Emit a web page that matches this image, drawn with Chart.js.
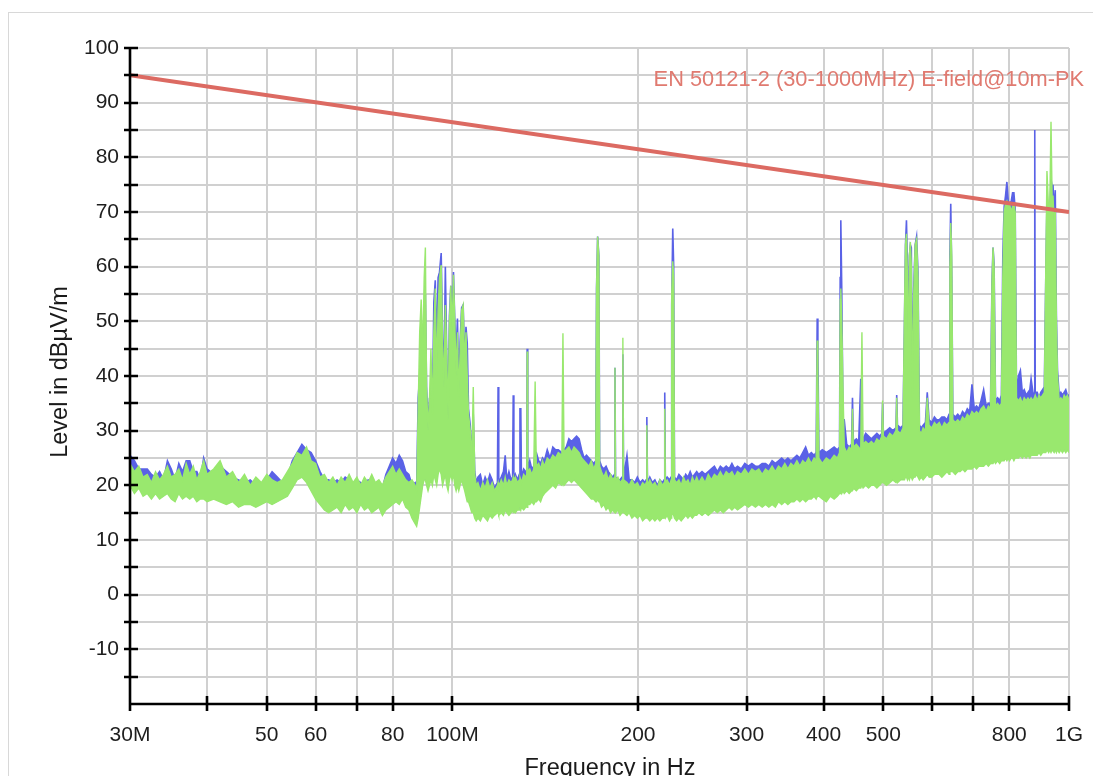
<!DOCTYPE html>
<html>
<head>
<meta charset="utf-8">
<script src="https://cdn.jsdelivr.net/npm/chart.js@4/dist/chart.umd.min.js"></script>
<style>
html,body{margin:0;padding:0;background:#fff;}
#wrap{position:relative;width:1093px;height:776px;overflow:hidden;background:#fff;}
#frame{position:absolute;left:8px;top:12px;width:1200px;height:900px;border:1.5px solid #d8d8d8;box-sizing:border-box;}
#c{position:absolute;left:0;top:0;}
</style>
</head>
<body>
<div id="wrap"><div id="frame"></div><canvas id="c" width="1093" height="776"></canvas></div>
<script>
// ---------- data ----------
const xTickValues = [30,40,50,60,70,80,100,200,300,400,500,600,700,800,1000];
const xTickLabels = ['30M','','50','60','','80','100M','200','300','400','500','','','800','1G'];

const limitFreq = [30, 1000];
const limitLevel = [95, 70];
const limitName = 'EN 50121-2 (30-1000MHz) E-field@10m-PK';

// sweep frequencies in MHz
const freqMHz = [
 30,30.5,31,31.5,32,32.5,33,33.5,34,34.5,35,35.5,36,36.5,37,37.5,38,38.5,39,39.5,40,
 41,42,43,44,45,46,47,48,49,50,51,52,53,54,55,56,57,58,59,60,61,62,63,64,65,66,67,68,69,70,71,72,73,74,75,76,77,78,79,80,81,82,83,84,85,86,87,
 87.5,88,88.5,89,89.5,90,90.4,90.8,91.3,91.8,92.3,92.8,93.3,93.8,94.3,94.8,95.3,95.9,96.4,96.9,97.4,97.9,98.4,98.9,99.4,99.9,100.4,100.9,101.4,101.9,102.4,102.9,103.5,104.1,104.7,105.2,105.7,106.2,106.9,107.5,108.1,108.7,109.3,
 110,111,112,113,114,115,116,117,118.3,118.6,118.9,120,121,121.8,122.5,123.5,124.5,125.2,125.5,125.8,126.5,127.5,128.4,128.7,129.1,129.4,130.5,131.5,132,132.2,132.5,133.5,134.5,135.5,136.2,136.8,138,139,140,141,142.5,144,145.5,147,148.5,150.5,151.1,151.7,153,154.5,156,157.5,159,160.5,162,163.5,165,166.5,168,169.5,170.8,171.3,172,172.8,173.3,
 174.5,176,177.5,179,180.5,182,183.2,183.5,183.9,185.5,187,188.5,189,189.5,191.9,193.5,195.5,197.5,199.5,201.5,203.5,205.5,206.2,206.7,207.2,209,211,213,215,217,219,220.5,221,221.5,223,225,226.3,226.8,227.7,228.5,229.2,231,233,235,237,239,241,243,245,247,249,251,254,257,260,263,266,269,272,275,278,281,284,287,290,294,298,302,306,310,314,318,322,326,330,334,338,342,346,350,354,358,362,366,370,374,378,382,386,389,390.5,391.5,393,
 398,404,410,416,421,424.5,425.5,426.5,428,430,432,436,440,444,445.5,447,452,456,459.5,461.5,463.5,468,473,478,483,488,493,497,498.5,500,506,512,518,524,525.5,527,533,538,541,543,545,547,549,551,553,555,557,560,563,566,569,572,576,580,585,589,593,599,605,610,616,622,628,634,639,641,643,645.5,648,654,660,666,672,678,684,690,696,702,708,714,720,727,734,740,746,750,753,756,760,766,772,777,781,785,789,793,797,801,806,810,814,818,822,828,834,840,846,852,858,864,868,874,878.5,880,881.5,888,894,900,906,912,917,921,927,931,935,939,942,946,950,954,958,964,970,976,982,988,994,1000
];

// green trace: upper and lower edge of the band (dBµV/m)
const greenMax = [
 24.0,22.5,23.5,21.5,22.0,20.5,22.5,21.0,22.0,23.5,21.5,22.0,23.0,21.0,24.0,22.0,23.5,21.0,22.5,24.5,22.0,
 23.0,24.5,21.5,22.5,20.5,22.0,20.0,21.5,20.5,22.0,21.0,20.5,21.0,22.5,24.0,26.0,25.5,27.0,24.5,24.0,21.5,22.0,20.5,21.5,20.0,21.5,20.5,22.0,20.5,21.5,20.0,21.5,20.5,22.0,20.5,21.0,20.0,21.5,22.5,23.5,22.0,23.0,22.0,21.0,20.5,21.0,20.0,
 19.0,34.0,48.0,54.0,44.0,58.0,63.5,38.0,30.0,36.0,45.0,33.0,48.0,56.0,40.0,52.0,58.0,60.3,46.0,38.0,53.0,44.0,32.0,50.0,56.5,48.0,58.5,50.0,40.0,48.0,36.0,44.0,52.0,53.0,42.0,48.0,40.0,33.0,30.0,24.0,38.0,22.0,20.0,
 20.5,19.0,20.5,19.5,21.0,19.5,20.5,19.0,20.0,20.5,19.5,21.0,20.0,21.5,20.0,21.0,20.5,21.0,21.5,20.5,21.5,20.5,21.0,21.5,21.0,20.5,22.0,21.5,22.0,44.5,22.5,23.0,22.0,23.0,39.0,23.5,24.0,23.0,24.5,23.5,25.0,24.5,25.5,25.0,26.0,25.5,47.8,26.0,26.5,27.0,26.0,27.0,26.5,26.0,25.0,24.5,24.0,23.5,24.5,23.0,24.0,56.0,65.5,62.0,23.5,
 22.5,21.5,22.5,21.0,22.0,21.0,21.5,41.5,21.0,21.5,20.5,21.0,47.0,21.0,20.5,20.0,21.0,20.0,20.5,19.5,20.5,20.0,20.5,31.0,20.0,21.0,20.0,20.5,19.5,21.0,20.0,20.5,34.0,20.5,21.0,20.0,21.0,55.0,61.0,58.0,21.0,20.5,21.0,20.0,21.5,20.5,21.0,20.0,21.5,20.5,21.5,20.5,21.5,20.5,22.0,21.0,22.0,21.5,22.5,21.5,22.5,22.0,22.5,21.5,22.5,22.0,23.0,22.0,23.0,22.5,23.0,22.0,23.0,22.5,23.5,22.5,23.5,23.0,24.0,23.0,24.0,23.5,24.5,23.5,24.5,24.0,25.0,24.0,25.0,24.5,46.5,40.0,25.0,
 24.0,25.0,24.5,25.5,25.0,26.0,54.0,56.0,50.0,38.0,27.0,26.0,27.0,26.5,34.0,27.0,27.5,27.0,26.5,48.0,27.5,28.0,27.5,28.0,27.5,28.5,28.0,29.0,35.5,29.0,28.5,29.5,29.0,30.0,36.0,30.0,29.5,30.5,52.0,64.0,66.0,58.0,40.0,62.0,64.5,60.0,36.0,55.0,64.0,65.0,58.0,30.0,29.5,30.5,30.0,36.0,31.0,30.5,31.5,31.0,31.5,30.5,31.5,31.0,31.5,60.0,68.0,62.0,32.0,31.5,32.0,31.5,32.5,32.0,33.0,32.5,33.5,33.0,33.5,33.0,34.0,34.5,33.5,34.5,34.0,57.0,63.5,60.0,34.5,35.0,34.5,35.0,58.0,70.0,71.5,72.0,71.0,71.5,70.0,71.0,71.5,70.0,36.0,35.5,36.0,35.0,36.0,35.5,36.0,35.5,36.0,35.5,36.0,36.0,36.5,35.5,36.5,36.0,36.5,37.0,60.0,77.5,70.0,72.0,86.5,72.0,73.0,68.0,70.0,50.0,40.0,35.5,36.0,35.5,36.5,36.0,36.5,35.5
];
const greenMin = [
 20.0,18.5,19.5,18.0,18.5,17.5,18.5,17.5,18.0,18.5,17.5,17.0,18.5,17.5,18.0,17.5,18.0,17.0,17.5,17.5,17.0,
 17.5,17.0,16.5,17.0,16.0,16.5,16.5,16.0,16.5,17.0,16.5,17.0,17.5,18.0,19.5,21.0,21.5,20.5,19.0,17.5,16.5,15.5,15.0,15.5,16.0,15.0,16.5,15.5,16.0,15.0,16.5,15.5,16.0,15.0,15.5,16.0,14.5,15.5,16.0,16.5,17.0,16.5,17.5,16.0,15.5,14.0,13.0,
 12.5,14.0,16.0,18.0,20.0,21.0,21.0,20.0,19.0,20.0,21.0,20.0,22.0,21.0,20.0,22.0,23.0,22.0,20.0,21.0,22.0,20.0,19.0,21.0,22.0,21.0,22.0,20.0,19.0,20.0,19.0,20.0,21.0,20.0,19.0,18.0,17.0,17.0,16.0,15.0,15.0,14.0,13.5,
 14.0,13.5,14.5,14.0,13.5,14.5,14.0,14.5,15.0,15.0,14.5,15.0,14.5,15.5,15.0,14.5,15.0,15.5,15.0,15.5,15.0,15.5,15.5,16.0,15.5,16.0,15.5,16.0,16.5,16.0,16.5,16.5,17.0,16.5,17.0,17.0,17.5,17.0,18.0,18.5,19.0,19.5,20.0,19.5,20.5,20.0,20.5,20.0,20.5,21.0,20.5,21.0,20.5,20.0,19.5,19.0,18.5,18.0,17.5,17.5,17.0,17.0,17.5,17.0,17.0,
 16.0,16.5,15.5,16.0,15.0,15.5,15.0,15.5,15.0,15.5,14.5,15.0,15.5,15.0,14.5,15.0,14.0,14.5,14.0,14.5,13.5,14.0,14.0,14.5,14.0,13.5,14.0,13.5,14.0,13.5,14.0,14.0,14.5,14.0,14.5,13.5,14.0,14.5,15.0,14.5,14.0,13.5,14.0,13.5,14.0,14.5,14.0,14.5,14.0,14.5,14.5,15.0,14.5,15.0,14.5,15.0,15.5,15.0,15.5,15.0,15.5,16.0,15.5,16.0,15.5,16.0,16.5,16.0,16.5,16.0,16.5,16.0,16.5,16.0,16.5,16.0,17.0,16.5,17.0,16.5,17.0,17.0,17.5,17.0,17.5,17.0,17.5,17.5,18.0,17.5,18.0,18.0,18.0,
 17.5,17.0,18.0,17.5,18.0,18.5,18.5,19.0,18.5,19.0,18.5,19.0,18.5,19.0,19.0,19.5,19.0,19.5,19.5,20.0,19.5,20.0,19.5,20.0,20.0,19.5,20.0,20.5,20.5,20.5,20.0,20.5,21.0,20.5,21.0,20.5,21.0,21.0,21.0,21.5,21.5,21.0,21.5,21.0,21.5,21.5,21.0,21.5,21.5,22.0,21.5,21.0,21.5,21.0,21.5,22.0,21.5,21.5,22.0,22.0,22.0,21.5,22.0,22.5,22.0,22.5,22.5,22.5,22.5,22.0,22.5,22.5,23.0,22.5,23.0,23.0,23.0,23.5,23.0,23.5,23.5,23.5,24.0,23.5,24.0,24.0,24.0,24.5,24.0,24.5,24.0,24.5,24.5,24.5,25.0,24.5,25.0,24.5,25.0,25.0,24.5,25.0,25.0,25.0,25.5,25.0,25.5,25.0,25.5,25.0,25.5,25.5,25.5,25.5,25.5,25.5,26.0,25.5,26.0,26.0,26.0,26.5,26.0,26.5,26.0,26.5,26.5,26.0,26.5,26.0,26.5,26.0,26.5,26.0,26.5,26.0,26.5,26.0
];
// blue trace: upper edge (dBµV/m)
const blueMax = [
 25.5,24.5,23.0,23.0,23.0,22.0,21.5,22.5,21.0,24.5,23.0,21.0,24.0,22.5,24.5,24.5,22.5,22.5,21.0,25.0,23.0,
 22.0,23.5,22.5,21.5,21.0,20.5,21.0,20.0,19.5,21.0,22.5,21.5,20.5,21.5,24.5,26.0,27.5,26.5,26.0,24.5,22.5,21.0,21.0,20.5,21.0,20.5,21.5,21.0,20.0,21.0,20.5,20.0,21.0,20.5,20.0,20.5,19.5,22.0,23.5,25.0,24.0,25.5,24.5,22.5,22.0,20.0,20.5,
 19.5,36.0,40.0,40.0,42.0,52.0,55.0,38.0,31.0,36.0,34.0,34.0,53.5,57.5,45.0,58.0,59.0,62.5,47.0,40.0,60.0,44.0,33.0,51.0,56.5,49.0,59.0,50.0,44.0,50.5,37.0,46.0,52.5,53.0,42.0,49.0,46.0,34.0,31.0,25.0,33.0,22.5,20.5,
 21.5,22.0,20.0,21.5,20.5,22.0,21.0,19.5,20.5,38.0,20.5,21.5,22.5,25.5,21.0,22.5,21.0,21.5,36.5,21.0,22.0,21.0,22.0,34.0,34.0,21.5,23.0,22.5,22.5,45.0,23.0,24.5,23.0,23.5,26.0,26.0,24.5,24.0,25.0,24.5,26.5,25.0,27.0,26.5,26.5,26.0,26.0,26.5,27.0,28.5,28.0,28.5,29.0,28.5,26.5,25.0,25.5,25.0,24.5,24.0,24.5,56.0,65.5,62.0,24.5,
 23.5,23.0,23.5,22.5,22.0,21.5,22.0,41.5,21.5,21.0,21.0,21.5,44.0,21.5,25.5,21.0,21.0,20.5,21.5,20.5,21.0,20.5,21.0,32.5,20.5,21.5,20.5,21.0,20.0,21.0,20.5,21.0,37.0,21.0,21.5,21.0,21.5,53.0,67.0,60.0,21.5,21.0,22.0,21.5,21.0,22.0,21.5,22.5,21.5,22.0,22.5,22.0,22.5,22.0,22.5,23.0,23.5,22.5,23.5,23.0,23.5,23.0,24.0,23.0,23.5,23.0,24.0,23.5,24.0,23.5,23.5,24.0,24.0,23.5,24.5,24.0,24.5,25.0,24.5,25.0,24.5,25.0,25.5,25.0,26.0,27.0,25.5,26.0,25.5,26.0,50.5,45.0,26.0,
 26.5,26.0,26.5,27.0,26.5,27.0,58.0,68.5,56.0,32.0,32.0,27.5,27.0,27.5,36.0,28.0,28.5,28.0,39.5,29.0,28.5,29.5,29.0,28.5,29.0,29.5,29.0,29.5,35.0,29.5,30.0,30.5,30.0,30.5,36.5,31.0,30.5,31.0,50.0,64.0,68.5,60.0,42.0,62.0,64.0,63.5,38.0,56.0,64.0,65.5,59.0,31.0,30.5,31.0,31.5,37.0,32.0,31.5,32.5,32.0,32.0,32.5,32.5,32.0,33.0,62.0,71.5,58.0,33.0,32.5,33.0,32.5,33.5,33.0,34.0,33.5,38.5,34.0,34.5,34.0,35.5,37.5,34.5,35.0,35.0,57.0,63.5,60.5,35.5,36.0,35.5,36.5,62.0,71.0,73.0,75.5,72.0,71.5,72.0,73.5,73.5,70.5,37.0,40.0,41.0,37.0,37.5,36.5,37.0,37.5,39.5,37.0,36.5,85.0,37.0,37.0,36.0,37.0,37.5,38.0,58.0,72.0,62.0,70.0,76.0,74.5,75.0,70.0,74.0,51.0,41.0,36.5,37.0,36.5,37.0,37.5,36.5,36.5
];

// ---------- styling ----------
const FONT = '"Liberation Sans", Arial, Helvetica, sans-serif';
const GREEN = '#99e86e';
const BLUE = '#5a62e6';
const RED = '#dc6a62';
const GRID = '#d0d0d0';

const pts = (xs, ys) => xs.map((f, i) => ({x: f, y: ys[i]}));

const decor = {
  id: 'decor',
  afterDatasetsDraw(chart) {
    const {ctx, chartArea: a, scales: {x, y}} = chart;
    ctx.save();
    ctx.strokeStyle = '#000';
    ctx.lineWidth = 2.6;
    ctx.beginPath();
    ctx.moveTo(a.left, a.top - 1); ctx.lineTo(a.left, a.bottom + 1.3);
    ctx.moveTo(a.left - 1.3, a.bottom); ctx.lineTo(a.right + 1, a.bottom);
    y.ticks.forEach(t => {
      if (t.value <= -20) return;
      const py = Math.round(y.getPixelForValue(t.value));
      ctx.moveTo(a.left - 6, py); ctx.lineTo(a.left + 8, py);
    });
    x.ticks.forEach(t => {
      const px = Math.round(x.getPixelForValue(t.value));
      ctx.moveTo(px, a.bottom - 8); ctx.lineTo(px, a.bottom + 7);
    });
    ctx.stroke();

    // limit line label
    ctx.fillStyle = '#e07a70';
    ctx.font = '21.8px ' + FONT;
    ctx.textAlign = 'right';
    ctx.textBaseline = 'alphabetic';
    ctx.fillText(limitName, 1084, 86);

    // axis titles
    ctx.fillStyle = '#1a1a1a';
    ctx.font = '23.5px ' + FONT;
    ctx.textAlign = 'center';
    ctx.fillText('Frequency in Hz', 610, 775);
    ctx.translate(61, 372);
    ctx.rotate(-Math.PI / 2);
    ctx.textBaseline = 'middle';
    ctx.fillText('Level in dBµV/m', 0, 0);
    ctx.restore();
  }
};

new Chart(document.getElementById('c'), {
  type: 'line',
  data: {
    datasets: [
      { label: limitName, data: pts(limitFreq, limitLevel), borderColor: RED, borderWidth: 4,
        pointRadius: 0, fill: false, order: 0 },
      { label: 'green max', data: pts(freqMHz, greenMax), borderColor: GREEN, backgroundColor: GREEN,
        borderWidth: 1.4, pointRadius: 0, fill: '+1', order: 1 },
      { label: 'green min', data: pts(freqMHz, greenMin), borderColor: GREEN, borderWidth: 1.4,
        pointRadius: 0, fill: false, order: 2 },
      { label: 'blue max', data: pts(freqMHz, blueMax), borderColor: BLUE, backgroundColor: BLUE,
        borderWidth: 1.6, pointRadius: 0, fill: 2, order: 3 }
    ]
  },
  options: {
    responsive: false,
    animation: false,
    devicePixelRatio: 1,
    layout: { autoPadding: false, padding: { left: 0, top: 48, right: 24, bottom: 0 } },
    plugins: { legend: { display: false }, tooltip: { enabled: false } },
    elements: { line: { tension: 0 } },
    scales: {
      x: {
        type: 'logarithmic', min: 30, max: 1000, position: 'bottom',
        afterBuildTicks: s => { s.ticks = xTickValues.map(v => ({ value: v })); },
        afterFit: s => { s.height = 72; s.paddingLeft = 0; s.paddingRight = 0; },
        grid: { color: GRID, lineWidth: 2, drawTicks: false },
        border: { display: false },
        ticks: {
          autoSkip: false, maxRotation: 0, minRotation: 0, padding: 19,
          color: '#1e1e1e', font: { family: FONT, size: 21 },
          callback: (v, i) => xTickLabels[i]
        }
      },
      y: {
        type: 'linear', min: -20, max: 100,
        afterFit: s => { s.width = 130; s.paddingTop = 0; s.paddingBottom = 0; },
        grid: { color: GRID, lineWidth: 2, drawTicks: false },
        border: { display: false },
        ticks: {
          stepSize: 5, autoSkip: false, padding: 11,
          color: '#1e1e1e', font: { family: FONT, size: 21 },
          callback: v => (v % 10 === 0 && v > -20) ? String(v) : ''
        }
      }
    }
  },
  plugins: [decor]
});
</script>
</body>
</html>
